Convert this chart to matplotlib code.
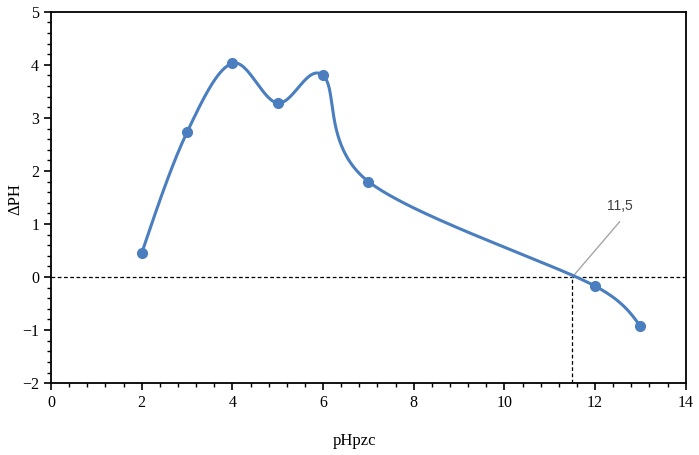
"""Point of zero charge plot (delta pH vs initial pH)."""

import matplotlib

matplotlib.use("Agg")
import matplotlib.pyplot as plt  # noqa: E402
import numpy as np  # noqa: E402
from matplotlib.ticker import MultipleLocator  # noqa: E402

PH_INITIAL = [2, 3, 4, 5, 6, 7, 12, 13]
DELTA_PH = [0.45, 2.73, 4.03, 3.28, 3.80, 1.80, -0.17, -0.93]
PZC = 11.5
PZC_LABEL = "11,5"

LINE_COLOR = "#4A7EBF"
X_RANGE = (0, 14)
Y_RANGE = (-2, 5)


def excel_smooth(xs, ys, scale, n=80):
    """Bezier smoothing close to the spreadsheet 'smoothed line' option.

    Control points are built in screen-like units; their reach is capped at
    half of the segment length so short segments don't hook. End segments
    use a natural (zero curvature) end.
    """
    pts = np.column_stack([xs, ys]).astype(float) * scale
    last = len(pts) - 2
    out = []
    for i in range(len(pts) - 1):
        p0 = pts[max(i - 1, 0)]
        p1 = pts[i]
        p2 = pts[i + 1]
        p3 = pts[min(i + 2, len(pts) - 1)]
        d12 = np.linalg.norm(p2 - p1)
        d02 = np.linalg.norm(p2 - p0)
        d13 = np.linalg.norm(p3 - p1)
        f1 = 1 / 6 if d02 / 6 <= d12 / 2 else d12 / (2 * d02)
        f2 = 1 / 6 if d13 / 6 <= d12 / 2 else d12 / (2 * d13)
        c1 = p1 + (p2 - p0) * f1
        c2 = p2 - (p3 - p1) * f2
        if i == 0:
            c1 = (p1 + c2) / 2
        if i == last:
            c2 = (p2 + c1) / 2
        t = np.linspace(0, 1, n)[:, None]
        seg = ((1 - t) ** 3) * p1 + 3 * ((1 - t) ** 2) * t * c1 + 3 * (1 - t) * t ** 2 * c2 + t ** 3 * p2
        out.append(seg if i == 0 else seg[1:])
    curve = np.vstack(out) / scale
    return curve[:, 0], curve[:, 1]


plt.rcParams["font.family"] = ["Liberation Serif", "DejaVu Serif"]

fig = plt.figure(figsize=(6.99, 4.55), dpi=100)
ax_box = [0.073, 0.158, 0.908, 0.816]
ax = fig.add_axes(ax_box)

# reference lines at zero and at the pzc
ax.plot([X_RANGE[0], X_RANGE[1]], [0, 0], color="black", linewidth=0.9, linestyle=(0, (3, 2)), zorder=1)
ax.plot([PZC, PZC], [Y_RANGE[0], 0], color="black", linewidth=0.9, linestyle=(0, (3, 2)), zorder=1)

px_per_x = ax_box[2] * 699 / (X_RANGE[1] - X_RANGE[0])
px_per_y = ax_box[3] * 455 / (Y_RANGE[1] - Y_RANGE[0])
sx, sy = excel_smooth(PH_INITIAL, DELTA_PH, np.array([px_per_x, px_per_y]))
ax.plot(sx, sy, color=LINE_COLOR, linewidth=2.2, zorder=3, solid_capstyle="round")
ax.plot(PH_INITIAL, DELTA_PH, "o", color=LINE_COLOR, markersize=7, zorder=4)

# leader label for the pzc
ax.plot([PZC, 12.54], [0, 1.04], color="#A6A6A6", linewidth=1.0, zorder=2)
ax.text(12.55, 1.34, PZC_LABEL, ha="center", va="center", fontsize=10,
        color="#404040", family=["Liberation Sans", "DejaVu Sans"])

ax.set_xlim(*X_RANGE)
ax.set_ylim(*Y_RANGE)
ax.xaxis.set_major_locator(MultipleLocator(2))
ax.xaxis.set_minor_locator(MultipleLocator(0.4))
ax.yaxis.set_major_locator(MultipleLocator(1))
ax.yaxis.set_minor_locator(MultipleLocator(0.2))
ax.tick_params(which="major", direction="out", length=5, width=1.2, labelsize=11.5)
ax.tick_params(which="minor", direction="out", length=3, width=1.0)
for spine in ax.spines.values():
    spine.set_linewidth(1.3)

fig.text(354 / 699, 1 - 441 / 455, "pHpzc", ha="center", va="center", fontsize=12)
fig.text(15 / 699, 1 - 199 / 455, "ΔPH", ha="center", va="center", fontsize=12, rotation=90)

fig.savefig("out.png", dpi=100)
